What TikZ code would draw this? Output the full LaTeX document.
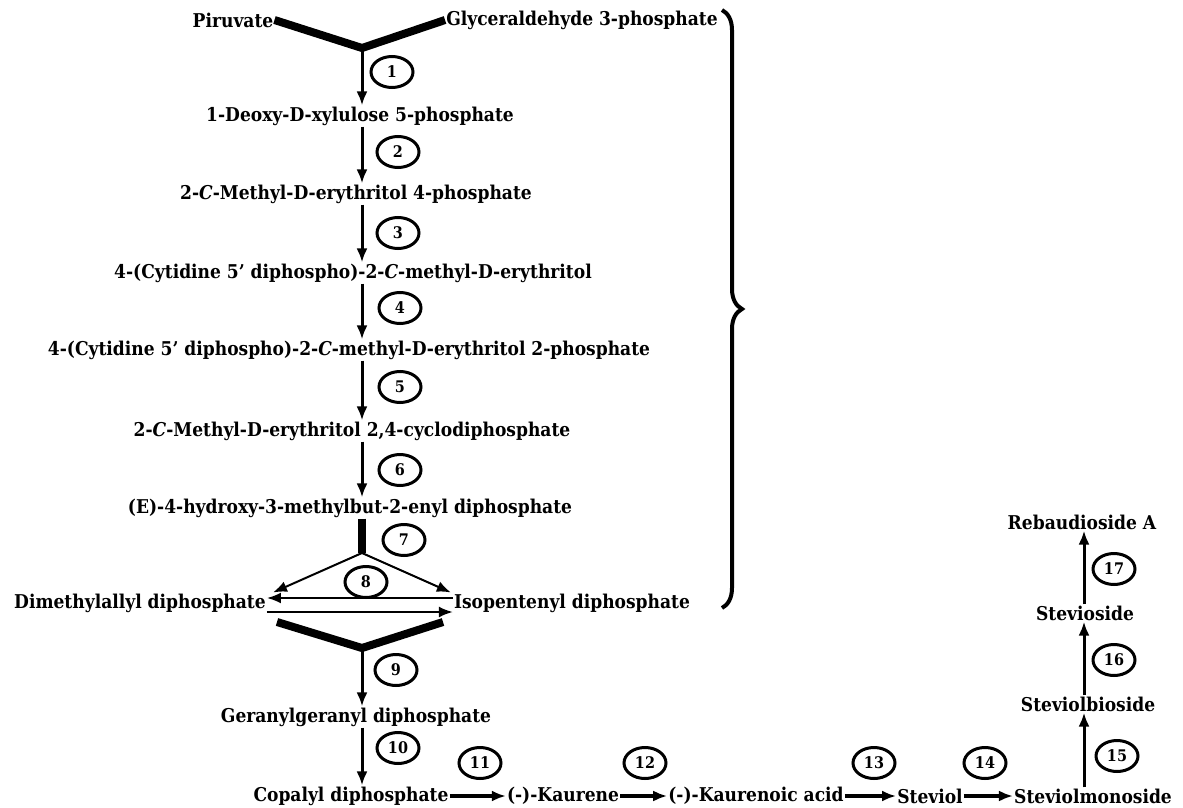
\documentclass[tikz,border=0pt]{standalone}
\usepackage{fontspec}
\setmainfont{DejaVu Serif Condensed}
\usetikzlibrary{positioning,shapes.geometric,arrows.meta,decorations.pathreplacing}
\tikzset{>={Latex[length=14pt,width=11pt]}}
\tikzset{
  cmpd/.style={inner sep=1pt, font=\fontsize{19}{21}\selectfont\bfseries},
  enz/.style={draw, ellipse, line width=3pt, minimum width=42pt, minimum height=31pt, inner sep=0pt, font=\fontsize{16}{18}\selectfont\bfseries},
  rxn/.style={->, line width=3pt},
  thinrxn/.style={->, line width=2pt},
  fatline/.style={line width=8pt}
}

\begin{document}
\begin{tikzpicture}[x=1pt,y=-1pt]
  \useasboundingbox (0,0) rectangle (1183,808);
  % MEP pathway
  \node[cmpd] (pyr) at (233,20) {Piruvate};
  \node[cmpd] (gly) at (582,20) {Glyceraldehyde 3-phosphate};
  \coordinate (j1) at (362,48);
  \node[cmpd] (dxp) at (360,116) {1-Deoxy-D-xylulose 5-phosphate};
  \node[cmpd] (mep) at (356,194) {2-\textit{C}-Methyl-D-erythritol 4-phosphate};
  \node[cmpd] (cdpme) at (353,273) {4-(Cytidine 5' diphospho)-2-\textit{C}-methyl-D-erythritol};
  \node[cmpd] (cdpmep) at (349,350) {4-(Cytidine 5' diphospho)-2-\textit{C}-methyl-D-erythritol 2-phosphate};
  \node[cmpd] (mecpp) at (352,431) {2-\textit{C}-Methyl-D-erythritol 2,4-cyclodiphosphate};
  \node[cmpd] (hmbpp) at (350,508) {(E)-4-hydroxy-3-methylbut-2-enyl diphosphate};
  \coordinate (j2) at (362,553);
  \node[cmpd] (dmapp) at (140,603) {Dimethylallyl diphosphate};
  \node[cmpd] (ipp) at (572,603) {Isopentenyl diphosphate};
  \coordinate (v1) at (277,622);
  \coordinate (v2) at (443,622);
  \coordinate (j3) at (362,648);
  \node[cmpd] (ggpp) at (356,717) {Geranylgeranyl diphosphate};
  % steviol glycosides
  \node[cmpd] (cpp) at (351,796) {Copalyl diphosphate};
  \node[cmpd] (kaur) at (563,796) {(-)-Kaurene};
  \node[cmpd] (kauac) at (756,796) {(-)-Kaurenoic acid};
  \node[cmpd] (stev) at (930,796) {Steviol};
  \node[cmpd] (stmono) at (1093,796) {Steviolmonoside};
  \node[cmpd] (stbio) at (1088,704) {Steviolbioside};
  \node[cmpd] (stvs) at (1085,613) {Stevioside};
  \node[cmpd] (rebA) at (1082,522) {Rebaudioside A};
  \coordinate (up) at (1084,700);

  % step numbers
  \foreach \n/\x/\y in {1/392/72, 2/398/152, 3/398/233, 4/400/308, 5/400/387,
      6/400/470, 7/404/540, 8/366/582, 9/396/670, 10/398/748, 11/480/763,
      12/645/763, 13/874/763, 14/985/763, 15/1117/756, 16/1114/660, 17/1114/569}
    \node[enz] (s\n) at (\x,\y) {\n};

  % connectors
  \draw[fatline] (pyr.east) -- (j1) -- (gly.west);
  \draw[rxn] (j1) -- (j1 |- dxp.north);
  \foreach \a/\b in {dxp/mep, mep/cdpme, cdpme/cdpmep, cdpmep/mecpp, mecpp/hmbpp}
    \draw[rxn] (\a.south -| j1) -- (\b.north -| j1);
  \draw[fatline] (hmbpp.south -| j2) -- (j2);
  \draw[thinrxn] (j2) -- ([xshift=6pt]dmapp.north east);
  \draw[thinrxn] (j2) -- ([xshift=-2pt]ipp.north west);
  \draw[thinrxn] ([yshift=5pt]ipp.west) -- ([yshift=5pt]dmapp.east);
  \draw[thinrxn] ([yshift=-9pt]dmapp.east) -- ([yshift=-9pt]ipp.west);
  \draw[fatline] (v1) -- (j3) -- (v2);
  \draw[rxn] (j3) -- (j3 |- ggpp.north);
  \draw[rxn] (ggpp.south -| j3) -- (cpp.north -| j3);
  \foreach \a/\b in {cpp/kaur, kaur/kauac, kauac/stev, stev/stmono}
    \draw[rxn, line width=3.5pt] (\a) -- (\b);
  \foreach \a/\b in {stmono/stbio, stbio/stvs, stvs/rebA}
    \draw[rxn] (\a.north -| up) -- (\b.south -| up);

  \draw[line width=4pt, decorate, decoration={brace, amplitude=20pt}] (722,10) -- (722,608);
\end{tikzpicture}
\end{document}
